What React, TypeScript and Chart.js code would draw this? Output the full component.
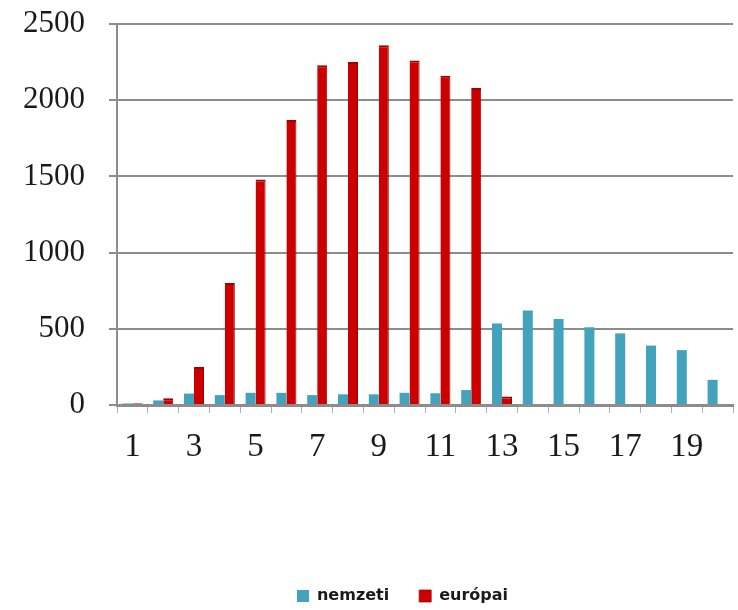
import React, { useEffect, useRef } from "react";
import { Chart, registerables } from "chart.js";

Chart.register(...registerables);

const categories = ["1","2","3","4","5","6","7","8","9","10","11","12","13","14","15","16","17","18","19","20"];
const nemzeti = [10, 30, 75, 65, 80, 80, 65, 70, 70, 80, 77, 98, 535, 620, 565, 510, 470, 390, 360, 165];
const europai = [12, 45, 250, 800, 1480, 1870, 2230, 2250, 2360, 2260, 2160, 2080, 55, 0, 0, 0, 0, 0, 0, 0];
const seriesNames = ["nemzeti", "európai"];
const yTicks = { min: 0, max: 2500, step: 500 };

const legendShift = {
  id: "legendShift",
  afterLayout(chart: any) {
    const lg = chart.legend;
    if (!lg) return;
    lg.left += 36;
    lg.right += 36;
    lg.top += 4;
    lg.bottom += 4;
  },
};

export default function App() {
  const ref = useRef<HTMLCanvasElement | null>(null);
  useEffect(() => {
    if (!ref.current) return;
    const chart = new Chart(ref.current, {
      type: "bar",
      data: {
        labels: categories,
        datasets: [
          { label: seriesNames[0], data: nemzeti, backgroundColor: "#43A3BD", categoryPercentage: 0.65, barPercentage: 1.0 },
          { label: seriesNames[1], data: europai, backgroundColor: "#CC0000", borderColor: "#9E0000", borderWidth: { top: 2, left: 0, right: 1, bottom: 0 }, categoryPercentage: 0.65, barPercentage: 1.0 },
        ],
      },
      plugins: [legendShift],
      options: {
        animation: false,
        responsive: true,
        maintainAspectRatio: false,
        layout: { padding: { left: 0, right: 5, top: 24, bottom: 0 } },
        plugins: {
          tooltip: { enabled: false },
          legend: {
            position: "bottom",
            labels: {
              boxWidth: 12,
              boxHeight: 12,
              padding: 30,
              color: "#1a1a1a",
              font: { family: "DejaVu Sans", size: 16, weight: "bold" },
            },
          },
        },
        scales: {
          x: {
            afterFit: (s: any) => { s.height = 149; s.paddingLeft = 0; s.paddingRight = 0; },
            grid: { display: true, drawOnChartArea: false, drawTicks: true, tickLength: 8, color: "#b0b0b0", lineWidth: 1, offset: true },
            border: { display: true, color: "#8c8c8c", width: 3 },
            ticks: {
              autoSkip: false,
              maxRotation: 0,
              padding: 15,
              color: "#1a1a1a",
              font: { family: "Liberation Serif", size: 33 },
              callback: (_v: any, i: number) => (i % 2 === 0 ? categories[i] : ""),
            },
          },
          y: {
            min: yTicks.min,
            max: yTicks.max,
            afterFit: (s: any) => { s.width = 117; s.paddingTop = 0; s.paddingBottom = 0; },
            grid: { color: "#8c8c8c", lineWidth: 2, tickLength: 8 },
            border: { display: true, color: "#8c8c8c", width: 2 },
            ticks: {
              stepSize: yTicks.step,
              padding: 24,
              color: "#1a1a1a",
              font: { family: "Liberation Serif", size: 31 },
              callback: (v: any) => String(v),
            },
          },
        },
      },
    });
    return () => chart.destroy();
  }, []);
  return (
    <div style={{ position: "fixed", left: 0, top: 0, width: 738, height: 610, background: "#fff" }}>
      <canvas ref={ref} />
    </div>
  );
}
